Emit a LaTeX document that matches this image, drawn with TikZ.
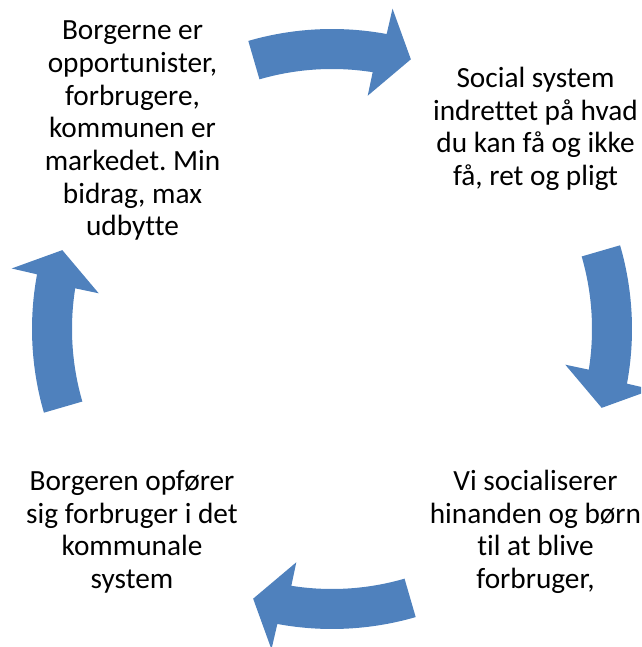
\documentclass[tikz,border=0pt]{standalone}
\usepackage{fontspec}
\setmainfont{Carlito}[Ligatures={NoCommon}]
\definecolor{arrowblue}{HTML}{4F81BD}
\tikzset{
  txt/.style={anchor=base, inner sep=0pt, font=\fontsize{29.3}{32.65}\selectfont\frenchspacing, text=black},
  cyclearrow/.style={fill=arrowblue, draw=none}
}
% #1 = central angle
\newcommand{\cyclearrowpath}[1]{%
  \fill[cyclearrow] ({#1+16.2}:300) arc[start angle={#1+16.2}, end angle={#1-10.5}, radius=300]
    -- ({#1-10.7}:326) -- ({#1-16.3}:281) -- ({#1-8.7}:236) -- ({#1-9}:260)
    arc[start angle={#1-9}, end angle={#1+16.2}, radius=260] -- cycle;}
\begin{document}
\begin{tikzpicture}[x=1pt,y=1pt]
\useasboundingbox (0,0) rectangle (641,647);
\begin{scope}
\clip (0,0) rectangle (641,647);
\coordinate (C) at (332,318);
\begin{scope}[shift={(C)}]
  \cyclearrowpath{90}
  \cyclearrowpath{0}
  \cyclearrowpath{270}
  \cyclearrowpath{180}
\end{scope}
% top-left block
\node[txt] (a1) at (132.5,{647-40}) {Borgerne er};
\node[txt] (a2) at (132.5,{647-72.6}) {opportunister,};
\node[txt] (a3) at (132.5,{647-105.3}) {forbrugere,};
\node[txt] (a4) at (132.5,{647-137.9}) {kommunen er};
\node[txt] (a5) at (132.5,{647-170.5}) {markedet. Min};
\node[txt] (a6) at (132.5,{647-203.2}) {bidrag, max};
\node[txt] (a7) at (132.5,{647-235.8}) {udbytte};
% top-right block
\node[txt] (b1) at (535.5,{647-87.7}) {Social system};
\node[txt] (b2) at (535.5,{647-120.3}) {indrettet på hvad};
\node[txt] (b3) at (535.5,{647-153}) {du kan få og ikke};
\node[txt] (b4) at (535.5,{647-185.7}) {få, ret og pligt};
% bottom-right block
\node[txt] (c1) at (535.5,{647-490.7}) {Vi socialiserer};
\node[txt] (c2) at (535.5,{647-523.3}) {hinanden og børn};
\node[txt] (c3) at (535.5,{647-556}) {til at blive};
\node[txt] (c4) at (535.5,{647-588.3}) {forbruger,};
% bottom-left block
\node[txt] (d1) at (132,{647-490.7}) {Borgeren opfører};
\node[txt] (d2) at (132,{647-523.3}) {sig forbruger i det};
\node[txt] (d3) at (132,{647-556}) {kommunale};
\node[txt] (d4) at (132,{647-588.3}) {system};
\end{scope}
\end{tikzpicture}
\end{document}
